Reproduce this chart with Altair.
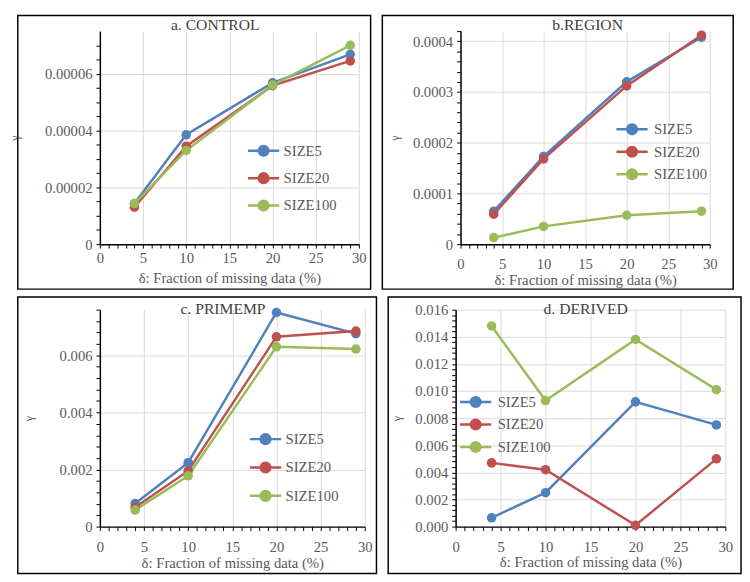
import altair as alt
import pandas as pd

x_vals = [4, 10, 20, 29]
series = ["SIZE5", "SIZE20", "SIZE100"]
colors = ["#4F81BD", "#C0504D", "#9BBB59"]

control_size5 = [0.0000143, 0.0000385, 0.0000568, 0.0000668]
control_size20 = [0.0000130, 0.0000345, 0.0000558, 0.0000645]
control_size100 = [0.0000143, 0.0000330, 0.0000560, 0.0000700]

region_size5 = [0.000065, 0.000173, 0.000320, 0.000408]
region_size20 = [0.000059, 0.000168, 0.000312, 0.000412]
region_size100 = [0.000013, 0.000035, 0.000057, 0.000065]

primemp_size5 = [0.00081, 0.00224, 0.00750, 0.00676]
primemp_size20 = [0.00068, 0.00195, 0.00665, 0.00685]
primemp_size100 = [0.00058, 0.00178, 0.00630, 0.00622]

derived_size5 = [0.00065, 0.0025, 0.0092, 0.0075]
derived_size20 = [0.0047, 0.0042, 0.0001, 0.0050]
derived_size100 = [0.0148, 0.0093, 0.0138, 0.0101]

FONT = "Liberation Serif"


def symbol_path(half, r):
    return (f"M-{half},0L{half},0M-{r},0A{r},{r},0,1,0,{r},0A{r},{r},0,1,0,-{r},0Z")


SYMBOL_WIDE = symbol_path(1, 0.31)
SYMBOL_TIGHT = symbol_path(1.45, 0.45)


def make_df(s5, s20, s100):
    rows = []
    for name, vals in zip(series, [s5, s20, s100]):
        for x, y in zip(x_vals, vals):
            rows.append({"x": x, "y": y, "series": name})
    return pd.DataFrame(rows)


def panel(title, df, ymax, major, minor, fmt, zero_label, w, h, L, R, T, B,
          title_x, title_y, ytitle_pad, lx, ly, row_pad, xlab_pad, xtitle_pad,
          sym, sym_size, lab_off):
    n_minor = int(round(ymax / minor))
    y_ticks = [i * minor for i in range(n_minor + 1) if i * minor <= ymax * 1.0000001]
    x_ticks = list(range(0, 31))
    ymaj = f"abs(datum.value/{major} - round(datum.value/{major})) < 1e-6"
    xmaj = "datum.value % 5 == 0"
    y_axis = alt.Axis(
        values=y_ticks,
        labelExpr=f"{ymaj} ? (datum.value == 0 ? '{zero_label}' : format(datum.value, '{fmt}')) : ''",
        gridOpacity={"condition": {"test": ymaj, "value": 1}, "value": 0},
        gridColor="#D9D9D9",
        domainColor="#000000",
        domainWidth=1.5,
        tickColor="#000000",
        tickSize=4,
        labelFont=FONT, labelFontSize=15, labelColor="#595959", labelPadding=4,
        title="γ", titleFont=FONT, titleFontSize=12, titleFontWeight="normal",
        titleColor="#595959", titlePadding=ytitle_pad,
    )
    x_axis = alt.Axis(
        values=x_ticks,
        labelExpr=f"{xmaj} ? datum.value : ''",
        gridOpacity={"condition": {"test": xmaj, "value": 1}, "value": 0},
        gridColor="#D9D9D9",
        domainColor="#000000",
        domainWidth=1.5,
        tickColor="#000000",
        tickSize=4,
        labelFont=FONT, labelFontSize=15, labelColor="#595959", labelPadding=xlab_pad,
        labelFlush=False,
        title="δ: Fraction of missing data (%)", titleFont=FONT, titleFontSize=15,
        titleFontWeight="normal", titleColor="#595959", titlePadding=xtitle_pad,
    )
    color = alt.Color(
        "series:N",
        scale=alt.Scale(domain=series, range=colors),
        legend=alt.Legend(
            orient="none", legendX=lx, legendY=ly, title=None,
            symbolType=sym, symbolSize=sym_size, symbolStrokeWidth=2.5,
            symbolOpacity=1,
            labelFont=FONT, labelFontSize=15, labelColor="#595959",
            rowPadding=row_pad, padding=0, labelOffset=lab_off,
        ),
    )
    base = alt.Chart(df).encode(
        x=alt.X("x:Q", scale=alt.Scale(domain=[0, 30], nice=False), axis=x_axis),
        y=alt.Y("y:Q", scale=alt.Scale(domain=[0, ymax], nice=False), axis=y_axis),
        color=color,
        order=alt.Order("x:Q"),
    )
    lines = base.mark_line(strokeWidth=2.5)
    points = base.mark_point(filled=True, size=95, opacity=1)
    one = pd.DataFrame({"t": [title]})
    border = alt.Chart(one).mark_rect(fill=None, stroke="#000000", strokeWidth=1.5).encode(
        x=alt.value(-L), x2=alt.value(w + R), y=alt.value(-T), y2=alt.value(h + B)
    )
    ttl = alt.Chart(one).mark_text(font=FONT, fontSize=16, color="#404040",
                                   baseline="middle", align="center").encode(
        text="t:N", x=alt.value(title_x), y=alt.value(title_y)
    )
    return alt.layer(border, lines, points, ttl).properties(width=w, height=h)


pa = panel("a. CONTROL", make_df(control_size5, control_size20, control_size100),
           0.000075, 0.00002, 0.000005, ".5f", "0",
           265, 218, 84, 12, 16, 46, 118, -6, 24, 150, 105, 0, 3, 5,
           SYMBOL_WIDE, 1024, 3)
pb = panel("b.REGION", make_df(region_size5, region_size20, region_size100),
           0.00042, 0.0001, 0.00002, ".4f", "0",
           255, 218, 80, 24, 16, 46, 130, -6, 11, 163, 88, 0, 9, 1,
           SYMBOL_TIGHT, 484, 10)
pc = panel("c. PRIMEMP", make_df(primemp_size5, primemp_size20, primemp_size100),
           0.0076, 0.002, 0.0004, ".3f", "0",
           271, 222, 84, 12, 13, 48, 126, -1, 24, 152, 115, 1, 9, 2,
           SYMBOL_WIDE, 1024, 3)
pd_ = panel("d. DERIVED", make_df(derived_size5, derived_size20, derived_size100),
            0.016, 0.002, 0.0004, ".3f", "0.000",
            276, 222, 69, 16, 13, 48, 133, -1, 12, 8, 82, 0, 9, 1,
            SYMBOL_TIGHT, 484, 10)

top = alt.hconcat(pa, pb, spacing=10).resolve_scale(color="independent")
bottom = alt.hconcat(pc, pd_, spacing=10).resolve_scale(color="independent")
chart = alt.vconcat(top, bottom, spacing=6).resolve_scale(color="independent").properties(
    padding=0, background="#FFFFFF"
).configure(font=FONT).configure_view(stroke=None).configure_axis(
    labelFont=FONT, titleFont=FONT
).configure_legend(labelFont=FONT)

chart.save("out.html", embed_options={"renderer": "svg", "actions": False})
